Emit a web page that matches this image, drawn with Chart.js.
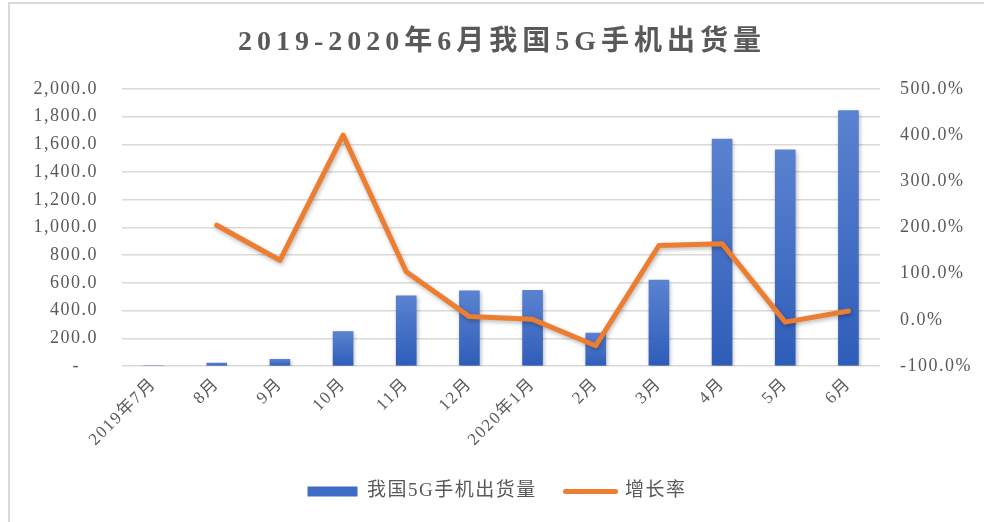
<!DOCTYPE html>
<html>
<head>
<meta charset="utf-8">
<script src="https://cdn.jsdelivr.net/npm/chart.js@4"></script>
<style>
  html, body { margin: 0; padding: 0; background: #fff; }
</style>
</head>
<body>
<canvas id="chart" width="984" height="522"></canvas>
<script>
// values
const categories = ['2019年7月', '8月', '9月', '10月', '11月', '12月', '2020年1月', '2月', '3月', '4月', '5月', '6月'];
const shipments = [0, 21, 48, 249, 507, 543, 547, 238, 620, 1638, 1560, 1845];
const growthRate = [null, 205, 129, 400, 104, 7, 1, -56, 161, 165, -5, 19];
const leftTicks = { min: 0, max: 2000, step: 200 };
const rightTicks = { min: -100, max: 500, step: 100 };
const titleText = '2019-2020年6月我国5G手机出货量';

const serif = "'Liberation Serif', 'Noto Sans CJK SC', serif";
const textColor = '#595959';

// per bar gradient, lighter on top
function barGradient(ctx) {
    const chart = ctx.chart;
    if (!chart.chartArea || ctx.type !== 'data') return '#4472c4';
    const y = chart.scales.y;
    const top = y.getPixelForValue(ctx.raw);
    const bottom = y.getPixelForValue(0);
    if (bottom - top < 1) return '#3a68c2';
    const g = chart.ctx.createLinearGradient(0, top, 0, bottom);
    g.addColorStop(0, '#5a82d0');
    g.addColorStop(1, '#2e5db9');
    return g;
}

// frame, wide-spaced text, title and soft shadows like the office chart
const framePlugin = {
    id: 'frame',
    beforeUpdate(chart) {
        chart.ctx.letterSpacing = '1.5px';
    },
    beforeDraw(chart) {
        const c = chart.ctx;
        c.letterSpacing = '1.5px';
        c.save();
        c.fillStyle = '#fff';
        c.fillRect(0, 0, chart.width, chart.height);
        c.strokeStyle = '#d9d9d9';
        c.lineWidth = 2;
        c.beginPath();
        c.moveTo(9, chart.height);
        c.lineTo(9, 3);
        c.lineTo(chart.width, 3);
        c.stroke();

        c.letterSpacing = '5px';
        c.fillStyle = textColor;
        c.font = 'bold 28px ' + serif;
        c.textAlign = 'center';
        c.textBaseline = 'middle';
        c.fillText(titleText, 502, 43);
        c.restore();
    },
    beforeDatasetDraw(chart) {
        const c = chart.ctx;
        c.save();
        c.shadowColor = 'rgba(0,0,0,0.28)';
        c.shadowBlur = 4;
        c.shadowOffsetX = 1;
        c.shadowOffsetY = 2;
    },
    afterDatasetDraw(chart) {
        chart.ctx.restore();
    }
};

const canvas = document.getElementById('chart');
const chart = new Chart(canvas.getContext('2d'), {
    type: 'bar',
    data: {
        labels: categories,
        datasets: [
            {
                type: 'bar',
                label: '我国5G手机出货量',
                data: shipments,
                backgroundColor: barGradient,
                barThickness: 20,
                yAxisID: 'y',
                order: 2
            },
            {
                type: 'line',
                label: '增长率',
                data: growthRate,
                borderColor: '#ed7d31',
                backgroundColor: '#ed7d31',
                borderWidth: 5,
                pointRadius: 0,
                tension: 0,
                borderJoinStyle: 'round',
                borderCapStyle: 'round',
                yAxisID: 'y1',
                order: 1
            }
        ]
    },
    options: {
        responsive: false,
        animation: false,
        layout: { padding: { left: 10, right: 0, top: 89, bottom: 11 } },
        plugins: {
            title: { display: false },
            legend: {
                position: 'bottom',
                labels: {
                    color: textColor,
                    font: { family: serif, size: 19 },
                    usePointStyle: true,
                    pointStyleWidth: 50,
                    boxHeight: 10,
                    padding: 10,
                    generateLabels(chart) {
                        const items = Chart.defaults.plugins.legend.labels.generateLabels(chart);
                        items.sort((a, b) => a.datasetIndex - b.datasetIndex);
                        return items.map(item => {
                            if (item.datasetIndex === 0) {
                                item.pointStyle = 'rect';
                                item.fillStyle = '#3d6bc6';
                                item.lineWidth = 0;
                                item.strokeStyle = 'rgba(0,0,0,0)';
                                item.text = item.text + '   ';
                            } else {
                                item.pointStyle = 'line';
                                item.strokeStyle = '#ed7d31';
                                item.lineWidth = 5;
                                item.lineCap = 'round';
                            }
                            return item;
                        });
                    }
                }
            },
            tooltip: { enabled: false }
        },
        scales: {
            x: {
                grid: { display: false },
                border: { display: false },
                ticks: {
                    color: textColor,
                    font: { family: serif, size: 17 },
                    minRotation: 45,
                    maxRotation: 45,
                    autoSkip: false,
                    padding: 0
                },
                afterFit(scale) { scale.height = 106; }
            },
            y: {
                position: 'left',
                min: leftTicks.min,
                max: leftTicks.max,
                grid: { color: '#d9d9d9', lineWidth: 1.5, drawTicks: false },
                border: { display: false },
                ticks: {
                    stepSize: leftTicks.step,
                    color: textColor,
                    font: { family: serif, size: 18 },
                    padding: 24,
                    callback(v) {
                        if (v === 0) return '-   ';
                        return v.toLocaleString('en-US', { minimumFractionDigits: 1, maximumFractionDigits: 1 });
                    }
                },
                afterFit(scale) { scale.width = 112; }
            },
            y1: {
                position: 'right',
                min: rightTicks.min,
                max: rightTicks.max,
                grid: { drawOnChartArea: false, drawTicks: false },
                border: { display: false },
                ticks: {
                    stepSize: rightTicks.step,
                    color: textColor,
                    font: { family: serif, size: 18 },
                    padding: 20,
                    callback(v) { return v.toFixed(1) + '%'; }
                },
                afterFit(scale) { scale.width = 104; }
            }
        }
    },
    plugins: [framePlugin]
});
</script>
</body>
</html>
